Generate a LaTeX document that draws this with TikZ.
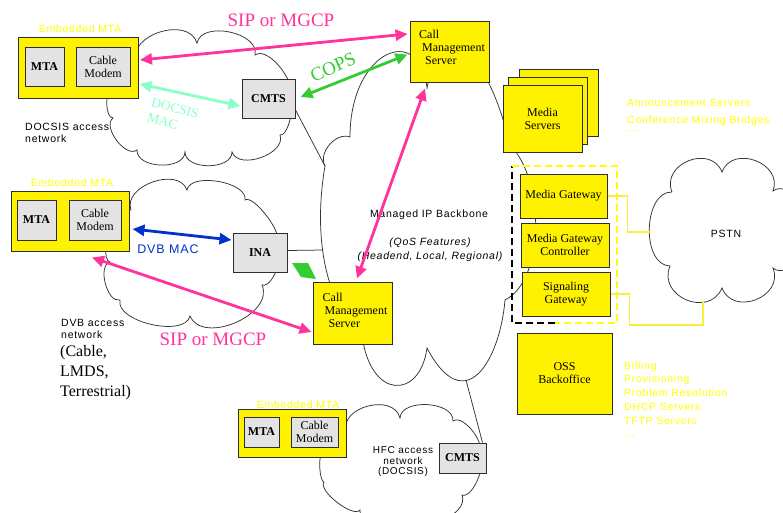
\documentclass[tikz,border=0pt]{standalone}
\usepackage{fontspec}
\setmainfont{Liberation Serif}
\newfontfamily\widesans[LetterSpace=7.0]{Liberation Sans}
\usetikzlibrary{arrows.meta}

\definecolor{sippink}{RGB}{255,51,153}
\definecolor{docsismint}{RGB}{140,255,200}
\definecolor{copsgreen}{RGB}{51,204,51}
\definecolor{dvbblue}{RGB}{0,51,204}
\definecolor{boxgray}{RGB}{227,227,227}
\definecolor{edge}{RGB}{45,45,45}
\definecolor{wireyellow}{RGB}{250,240,60}
\definecolor{noteyellow}{RGB}{255,255,0}

\newcommand\boxfont{\fontsize{12}{13}\selectfont}
\newcommand\lblfont{\widesans\fontsize{10.5}{12}\selectfont}

\tikzset{
  ybox/.style={draw=edge, line width=1pt, fill=yellow, inner sep=0pt, font=\boxfont, align=center},
  gbox/.style={draw=edge, line width=1pt, fill=boxgray, inner sep=0pt, font=\boxfont, align=center},
  boxtxt/.style={font=\boxfont, inner sep=0pt, align=left},
  slbl/.style={font=\lblfont, inner sep=0pt},
  ylbl/.style={slbl, text=noteyellow},
  cloudline/.style={draw=black!80, line width=0.75pt},
  lobe/.style={bend left=90, looseness=#1},
  lobe/.default=1,
  wire/.style={draw=black!80, line width=0.75pt},
  ywire/.style={draw=wireyellow, line width=1.1pt},
  dbl/.style={line width=2.8pt, >={Triangle[length=12pt,width=11pt]}, <->},
  bigserif/.style={font=\fontsize{19}{21}\selectfont, inner sep=0pt},
}

\begin{document}
\begin{tikzpicture}[x=1pt,y=-1pt]
\useasboundingbox (0,0) rectangle (783,512);
\fill[white] (0,0) rectangle (783,512);
\clip (0,0) rectangle (783,512);

% ---------- clouds ----------
% DOCSIS access network
\draw[cloudline] (136,62) to[lobe=1.15] (197,43) to[lobe=1.0] (255,55)
  to[lobe=0.8] (288,100) to[lobe=0.6] (280,135) to[lobe=1.0] (232,152)
  to[lobe=1.0] (185,152) to[lobe=1.0] (137,150) to[lobe=0.9] (113,118)
  to[lobe=0.7] (112,90) to[lobe=1.0] (136,62);
% DVB access network
\draw[cloudline] (131,210) to[lobe=1.1] (187,190) to[lobe=0.8] (245,200)
  to[lobe=0.5] (276,240) to[lobe=0.7] (262,285) to[lobe=1.05] (190,316)
  to[lobe=0.8] (120,300) to[lobe=0.87] (110,262) to[lobe=0.6] (112,232)
  to[lobe=0.8] (131,210);
% HFC access network
\draw[cloudline] (346,432) to[lobe=1.2] (400,418) to[lobe=0.96] (453,421)
  to[lobe=0.8] (478,455) to[lobe=0.7] (462,495) to[lobe=1.0] (410,515)
  to[lobe=1.0] (360,510) to[lobe=0.6] (324,482) to[lobe=0.4] (322,455)
  to[lobe=0.8] (346,432);
% PSTN
\draw[cloudline] (672,192) to[lobe=1.45] (722,172) to[lobe=1.4] (773,191)
  to[lobe=1.0] (805,232) to[lobe=1.0] (773,268) to[lobe=1.45] (722,288)
  to[lobe=1.5] (670,266) to[lobe=1.0] (672,192);
% managed IP backbone
\coordinate (bbNW) at (325,166);
\coordinate (bbW) at (323,250);
\coordinate (bbS) at (466,380);
\draw[cloudline] (bbNW) to[bend left=70] (350,137)
  .. controls (350,50) and (420,22) .. (427,88)
  .. controls (440,20) and (485,40) .. (510,145)
  .. controls (545,180) and (545,280) .. (505,300)
  .. controls (500,360) and (465,420) .. (427,348)
  .. controls (420,400) and (370,400) .. (362,335)
  .. controls (322,300) and (314,230) .. (bbNW);

% ---------- gateway group frame and PSTN trunks ----------
\draw[black, line width=1.1pt, dash pattern=on 7pt off 4pt] (555,323) -- (512,323) -- (512,166);
\draw[noteyellow, line width=1.1pt, dash pattern=on 7pt off 4pt] (512,166) -- (617,166) -- (617,323) -- (555,323);

% ---------- labels lying under boxes ----------
\node[ylbl] (emta3lbl) at (298,405) {Embedded MTA};

% ---------- DOCSIS side ----------
\node[ybox, minimum width=120pt, minimum height=61pt] (emta1) at (78,67.5) {};
\node[gbox, minimum width=39pt, minimum height=39pt] (mta1) at (44.5,66.5) {\bfseries MTA};
\node[gbox, minimum width=54pt, minimum height=39pt] (cm1) at (103,66.5) {Cable\\Modem};
\node[ylbl] (emta1lbl) at (80,29) {Embedded MTA};
\node[gbox, minimum width=53pt, minimum height=39pt] (cmts1) at (268.5,98.5) {\bfseries CMTS};

% ---------- call management and media servers ----------
\node[ybox, minimum width=79pt, minimum height=61pt] (cms1) at (449.5,51.5) {};
\node[boxtxt] (cms1txt) at (452,47.5) {Call\\\hspace*{3pt}Management\\\hspace*{6pt}Server};
\node[ybox, minimum width=79pt, minimum height=67pt] (ms3) at (558.5,103) {};
\node[ybox, minimum width=79pt, minimum height=67pt] (ms2) at (548,110.5) {};
\node[ybox, minimum width=79pt, minimum height=67pt] (ms1) at (542.5,118.5) {Media\\Servers};

% ---------- gateways and back office ----------
\node[ybox, minimum width=87pt, minimum height=44pt] (mg) at (563.5,196) {Media Gateway};
\node[ybox, minimum width=88pt, minimum height=44pt] (mgc) at (565,245) {Media Gateway\\Controller};
\node[ybox, minimum width=88pt, minimum height=44pt] (sg) at (566,294) {Signaling\\Gateway};
\node[ybox, minimum width=95pt, minimum height=81pt] (oss) at (564.5,373.5) {OSS\\Backoffice};

\coordinate (pstnW) at (651,232);
\coordinate (pstnS) at (703,301);
\draw[ywire] (mg.east) -- ++(20pt,0pt) |- (pstnW);
\draw[ywire] (sg.east) -- ++(19pt,0pt) -- ++(0pt,-31pt) -| (pstnS);

% ---------- DVB side ----------
\node[ybox, minimum width=118pt, minimum height=60pt] (emta2) at (70,221) {};
\node[gbox, minimum width=39pt, minimum height=40pt] (mta2) at (36.5,220) {\bfseries MTA};
\node[gbox, minimum width=52pt, minimum height=40pt] (cm2) at (95,220) {Cable\\Modem};
\node[ylbl] (emta2lbl) at (72,183) {Embedded MTA};
\node[gbox, minimum width=54pt, minimum height=39pt] (ina) at (260,252.5) {\bfseries INA};
\node[ybox, minimum width=79pt, minimum height=62pt] (cms2) at (352.5,313) {};
\node[boxtxt] (cms2txt) at (355,310.5) {Call\\\hspace*{2pt}Management\\\hspace*{6pt}Server};

% ---------- HFC side ----------
\node[ybox, minimum width=108pt, minimum height=48pt] (emta3) at (292,433) {};
\node[gbox, minimum width=35pt, minimum height=30pt] (mta3) at (261.5,432) {\bfseries MTA};
\node[gbox, minimum width=47pt, minimum height=30pt] (cm3) at (314.5,432) {Cable\\Modem};
\node[gbox, minimum width=47pt, minimum height=30pt] (cmts3) at (462.5,458) {\bfseries CMTS};

% ---------- backbone attachments ----------
\draw[wire] ([yshift=-11.5pt]cmts1.east) -- (bbNW);
\draw[wire] ([yshift=2pt]ina.east) -- (bbW);
\draw[wire] (bbS) -- ([xshift=20pt]cmts3.north);

% ---------- text inside the clouds ----------
\node[slbl] (bbtitle) at (429,215) {Managed IP Backbone};
\node[slbl, align=center, font=\widesans\itshape\fontsize{10.5}{14}\selectfont] (bbqos) at (430,250)
  {(QoS Features)\\(Headend, Local, Regional)};
\node[slbl, align=left, anchor=west] (docsisnet) at (25,132.5) {DOCSIS access\\network};
\node[slbl, align=left, anchor=west] (dvbnet) at (61,328.5) {DVB access\\network};
\node[inner sep=0pt, align=left, anchor=west, font=\fontsize{16}{20}\selectfont] (dvbkinds) at (60,373)
  {(Cable,\\LMDS,\\Terrestrial)};
\node[slbl, align=center, font=\widesans\fontsize{10}{10.5}\selectfont] (hfcnet) at (403,462)
  {HFC access\\network\\(DOCSIS)};
\node[slbl] (pstn) at (726,234) {PSTN};

% ---------- service notes ----------
\node[ylbl, anchor=west] (ann1) at (627,103) {Announcement Servers};
\node[ylbl, anchor=west] (ann2) at (627,121) {Conference Mixing Bridges};
\node[ylbl, anchor=west] (ann3) at (627,131) {...};
\foreach \t/\y [count=\i] in {Billing/366, Provisioning/379.5, Problem Resolution/393,
    DHCP Servers/407, TFTP Servers/421}
  \node[ylbl, anchor=west, text height=8pt, text depth=2pt] (oss\i) at (624,\y) {\t};
\node[ylbl, anchor=west, text height=8pt, text depth=2pt] (oss6) at (624,434) {...};

% ---------- signalling flows ----------
\draw[dbl, sippink] ([xshift=1.5pt,yshift=7.5pt]emta1.east) -- ([xshift=-2pt,yshift=17.5pt]cms1.west);
\draw[dbl, docsismint] ([xshift=1pt,yshift=-16.5pt]emta1.east) -- ([xshift=-1pt,yshift=-7.5pt]cmts1.west);
\draw[dbl, copsgreen] ([xshift=5pt,yshift=1.5pt]cmts1.east) -- ([xshift=-2pt,yshift=-3pt]cms1.west);
\draw[dbl, sippink] ([xshift=4.5pt,yshift=3pt]cms2.north) -- ([xshift=-24.5pt,yshift=-6pt]cms1.south);
\draw[dbl, sippink] ([xshift=22pt,yshift=-6pt]emta2.south) -- ([xshift=-1pt,yshift=-19pt]cms2.west);
\draw[dbl, dvbblue] ([xshift=3pt,yshift=-8pt]emta2.east) -- ([xshift=-1pt,yshift=12.5pt]ina.west);
\fill[copsgreen] (292,263) -- (308,263) -- (316,279) -- (301,277) -- cycle;

% ---------- flow labels ----------
\node[bigserif, text=sippink] (siptop) at (281,20) {SIP or MGCP};
\node[bigserif, text=sippink] (sipbot) at (213,339) {SIP or MGCP};
\node[bigserif, text=copsgreen, rotate=24] (cops) at (333,67) {COPS};
\node[inner sep=0pt, align=left, text=docsismint, rotate=-15, font=\fontsize{13.5}{16}\selectfont] (docsismac)
  at (173,116) {DOCSIS\\MAC};
\node[slbl, text=dvbblue, font=\widesans\fontsize{12.5}{14}\selectfont] (dvbmac) at (168,249) {DVB MAC};
\end{tikzpicture}
\end{document}
